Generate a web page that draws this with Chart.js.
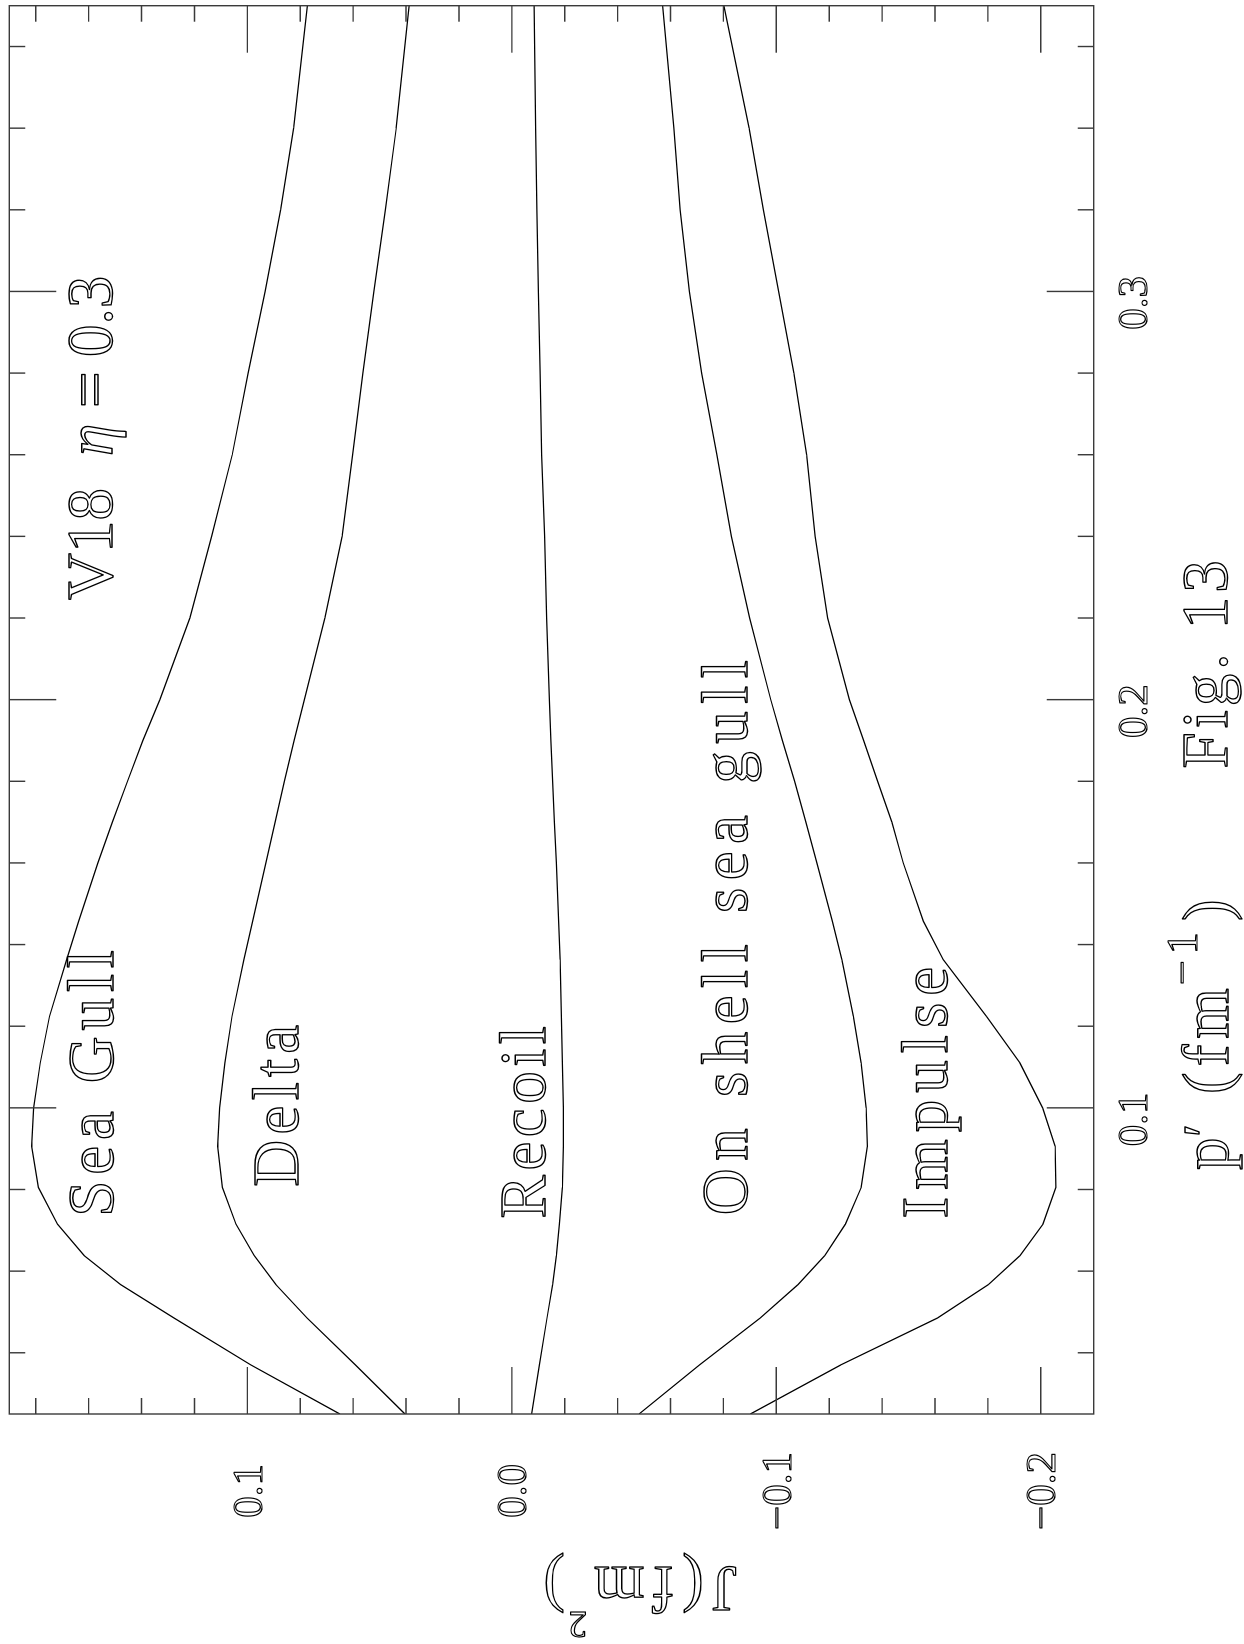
<!DOCTYPE html>
<html><head><meta charset="utf-8">
<script src="https://cdn.jsdelivr.net/npm/chart.js@4.4.1/dist/chart.umd.min.js"></script>
<style>
html,body{margin:0;padding:0;background:#fff;overflow:hidden;width:1244px;height:1644px;}
#wrap{position:absolute;left:0;top:0;width:1644px;height:1244px;transform-origin:0 0;transform:translateY(1644px) rotate(-90deg);background:#fff;}
canvas{display:block;}
</style></head><body>
<div id="wrap"><canvas id="c" width="1644" height="1244"></canvas></div>
<script>
// p' (fm^-1) sample points shared by all curves
const pPrime = [0.025, 0.037, 0.0485, 0.0567, 0.0638, 0.0715, 0.0805, 0.0906, 0.100, 0.111, 0.1224, 0.1363, 0.1457, 0.160, 0.170, 0.180, 0.190, 0.200, 0.220, 0.240, 0.260, 0.280, 0.300, 0.320, 0.340, 0.370];
// J (fm^2) values per curve
const seaGull = [0.0650, 0.0986, 0.1277, 0.1479, 0.1617, 0.1718, 0.1790, 0.1816, 0.1808, 0.1783, 0.1748, 0.1683, 0.1638, 0.1565, 0.1510, 0.1453, 0.1395, 0.1331, 0.1217, 0.1135, 0.1057, 0.0997, 0.0933, 0.0874, 0.0825, 0.0773];
const delta   = [0.0404, 0.0591, 0.0774, 0.0892, 0.0974, 0.1043, 0.1094, 0.1112, 0.1105, 0.1085, 0.1058, 0.1013, 0.0980, 0.0930, 0.0895, 0.0860, 0.0823, 0.0784, 0.0707, 0.0642, 0.0602, 0.0563, 0.0522, 0.0478, 0.0437, 0.0388];
const recoil  = [-0.0075, -0.0104, -0.0133, -0.0154, -0.0168, -0.0180, -0.0191, -0.0195, -0.0195, -0.0191, -0.0187, -0.0183, -0.0177, -0.0168, -0.0161, -0.0154, -0.0148, -0.0142, -0.0132, -0.0124, -0.0113, -0.0107, -0.0100, -0.0095, -0.0090, -0.0084];
const onShell = [-0.0481, -0.0709, -0.0939, -0.1082, -0.1183, -0.1261, -0.1321, -0.1344, -0.1340, -0.1321, -0.1291, -0.1248, -0.1212, -0.1153, -0.1112, -0.1069, -0.1023, -0.0979, -0.0899, -0.0830, -0.0775, -0.0718, -0.0671, -0.0636, -0.0613, -0.0570];
const impulse = [-0.0902, -0.1243, -0.1609, -0.1802, -0.1921, -0.2008, -0.2057, -0.2054, -0.2007, -0.1921, -0.1795, -0.1631, -0.1556, -0.1480, -0.1437, -0.1383, -0.1330, -0.1276, -0.1194, -0.1147, -0.1115, -0.1066, -0.1009, -0.0951, -0.0897, -0.0802];
const curveNames = ['Sea Gull', 'Delta', 'Recoil', 'On shell sea gull', 'Impulse'];

// tick values and labels
const pTicks = [0.04, 0.06, 0.08, 0.10, 0.12, 0.14, 0.16, 0.18, 0.20, 0.22, 0.24, 0.26, 0.28, 0.30, 0.32, 0.34, 0.36];
const pMajor = [0.1, 0.2, 0.3];
const pMajorLabels = ['0.1', '0.2', '0.3'];
const jTicks = [0.18, 0.16, 0.14, 0.12, 0.10, 0.08, 0.06, 0.04, 0.02, 0.00, -0.02, -0.04, -0.06, -0.08, -0.10, -0.12, -0.14, -0.16, -0.18, -0.20];
const jMajor = [0.1, 0.0, -0.1, -0.2];
const jMajorLabels = ['0.1', '0.0', '\u22120.1', '\u22120.2'];

const series = [seaGull, delta, recoil, onShell, impulse];

// ---- layout / style (not data) ----
const FONT = '"Liberation Serif", "Times New Roman", serif';
const labelLayout = [
  {p: 0.0733, j: 0.1509, w: 266.7},
  {p: 0.0807, j: 0.0809, w: 161.7},
  {p: 0.0729, j: -0.01255, w: 192.3},
  {p: 0.0737, j: -0.0888, w: 555},
  {p: 0.0729, j: -0.1644, w: 251.6}
];

// outlined text (imitates the double-stroke plotter font of the original)
function txt(ctx, s, u, v, size, o) {
  o = o || {};
  ctx.font = (o.italic ? 'italic ' : '') + size + 'px ' + FONT;
  ctx.textAlign = o.align || 'left';
  ctx.textBaseline = 'alphabetic';
  const hasLS = ('letterSpacing' in ctx);
  let ls = o.ls || 0;
  if (hasLS) {
    ctx.letterSpacing = '0px';
    if (o.w && s.length > 1) {
      const w = ctx.measureText(s).width;
      ls = (o.w - w) / (s.length - 1);
    }
    ctx.letterSpacing = ls + 'px';
  }
  ctx.lineWidth = size > 50 ? 1.35 : 1.2;
  ctx.lineJoin = 'round';
  ctx.strokeStyle = '#000';
  ctx.strokeText(s, u, v);
  if (hasLS) ctx.letterSpacing = '0px';
}

const isMajor = v => Math.abs(v * 10 - Math.round(v * 10)) < 1e-6;

const framePlugin = {
  id: 'frame',
  afterDatasetsDraw(chart) {
    const ctx = chart.ctx;
    const {left, right, top, bottom} = chart.chartArea;
    const xs = chart.scales.x, ys = chart.scales.y;
    ctx.save();
    ctx.strokeStyle = '#3a3a3a';
    ctx.lineWidth = 1.4;
    ctx.strokeRect(left, top, right - left, bottom - top);
    ctx.beginPath();
    pTicks.forEach(v => {
      const px = xs.getPixelForValue(v);
      const len = isMajor(v) ? 47 : 16;
      ctx.moveTo(px, bottom); ctx.lineTo(px, bottom - len);
      ctx.moveTo(px, top); ctx.lineTo(px, top + len);
    });
    jTicks.forEach(v => {
      const py = ys.getPixelForValue(v);
      const len = isMajor(v) ? 47 : 16;
      ctx.moveTo(left, py); ctx.lineTo(left + len, py);
      ctx.moveTo(right, py); ctx.lineTo(right - len, py);
    });
    ctx.stroke();

    // tick labels
    pMajor.forEach((v, i) => {
      txt(ctx, pMajorLabels[i], xs.getPixelForValue(v) - 11.5, bottom + 53.3, 43, {align: 'center'});
    });
    jMajor.forEach((v, i) => {
      txt(ctx, jMajorLabels[i], left - 77, ys.getPixelForValue(v) + 14.5, 43, {align: 'center'});
    });

    // curve labels
    curveNames.forEach((name, i) => {
      const L = labelLayout[i];
      txt(ctx, name, xs.getPixelForValue(L.p), ys.getPixelForValue(L.j), 65, {w: L.w});
    });

    // V18 eta = 0.3
    const u0 = xs.getPixelForValue(0.2244), v0 = ys.getPixelForValue(0.1513);
    txt(ctx, 'V18', u0, v0, 65);
    txt(ctx, '\u03B7', u0 + 144, v0, 65, {italic: true});
    txt(ctx, '=', u0 + 192, v0, 65);
    txt(ctx, '0.3', u0 + 243, v0, 65);

    // x-axis title:  p' (fm^-1)   Fig. 13
    const bl = bottom + 134.3;
    txt(ctx, 'p', 474, bl, 65);
    txt(ctx, '\u2032', 507, bl - 4, 60);
    txt(ctx, '(fm', 550, bl, 65, {ls: 6});
    txt(ctx, '\u22121', 659, bl - 31, 44, {ls: 6});
    txt(ctx, ')', 723, bl, 65);
    txt(ctx, 'Fig. 13', 875.6, bl - 1, 65, {ls: 4});

    // y-axis title J(fm^2), rotated
    ctx.save();
    ctx.translate(77.3, 737);
    ctx.rotate(-Math.PI / 2);
    txt(ctx, 'J(fm', 0, 0, 65, {ls: 8});
    txt(ctx, '2', 150, -45, 37);
    txt(ctx, ')', 172, 0, 65);
    ctx.restore();

    ctx.restore();
  }
};

function build() {
  const datasets = series.map((s, i) => ({
    label: curveNames[i],
    data: pPrime.map((p, k) => ({x: p, y: s[k]})),
    borderColor: '#000',
    borderWidth: 1.25,
    pointRadius: 0,
    tension: 0,
    fill: false
  }));
  new Chart(document.getElementById('c').getContext('2d'), {
    type: 'line',
    data: {datasets},
    options: {
      responsive: false,
      animation: false,
      devicePixelRatio: 1,
      events: [],
      layout: {padding: {left: 230, right: 5.7, top: 9.3, bottom: 150.3}},
      scales: {
        x: {type: 'linear', min: 0.025, max: 0.37, display: false},
        y: {type: 'linear', min: -0.22, max: 0.19, display: false}
      },
      plugins: {legend: {display: false}, tooltip: {enabled: false}}
    },
    plugins: [framePlugin]
  });
}

let built = false;
function go() { if (!built) { built = true; build(); } }
if (document.fonts && document.fonts.load) {
  Promise.all([
    document.fonts.load('65px "Liberation Serif"'),
    document.fonts.load('italic 65px "Liberation Serif"')
  ]).then(go, go);
  setTimeout(go, 1500);
} else {
  go();
}
</script>
</body></html>
